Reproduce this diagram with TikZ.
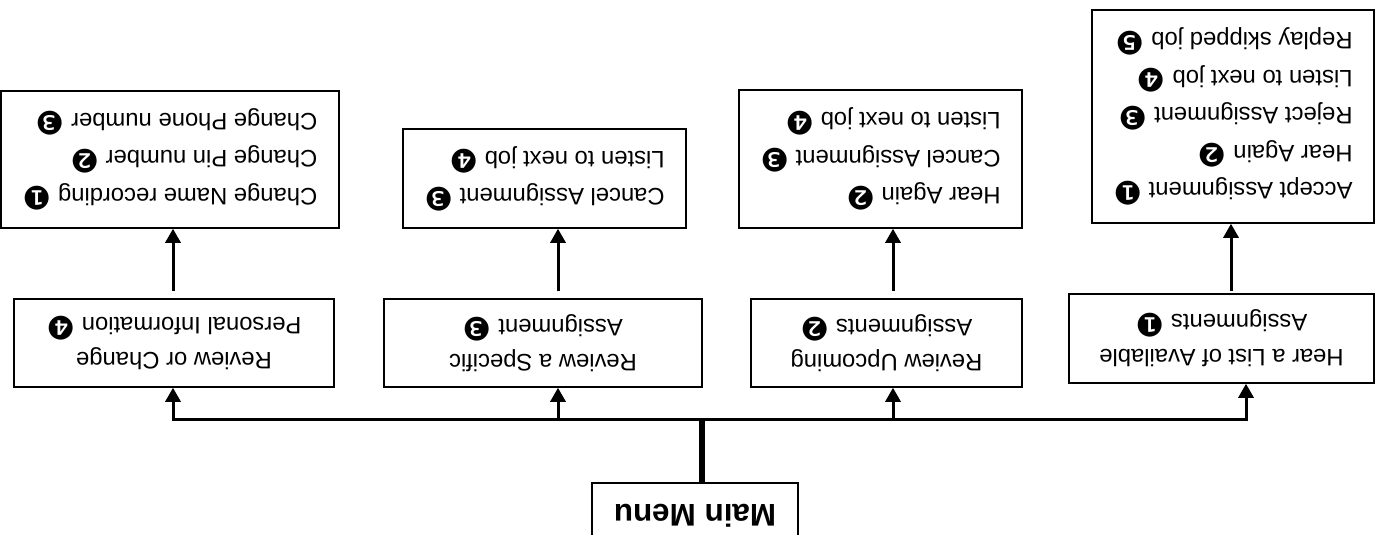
\documentclass[tikz,border=0pt]{standalone}
\usepackage{fontspec}
\setmainfont{Liberation Sans}
\newfontfamily\djv{DejaVu Sans}
\usetikzlibrary{arrows.meta}
\newcommand\cnum[1]{\raisebox{-1.5pt}{\djv\fontsize{32}{32}\selectfont #1}}
\begin{document}
\begin{tikzpicture}[x=1pt,y=-1pt,
  box/.style={draw, line width=1.5pt, rotate=180, inner sep=0pt},
  leaf/.style={box, align=left, font=\fontsize{23.8}{37.5}\selectfont},
  mid/.style={box, align=center, font=\fontsize{23.8}{35}\selectfont},
  arr/.style={line width=3pt, -{Triangle[width=15pt,length=14pt]}},
  busline/.style={line width=3pt, {Triangle[width=15pt,length=14pt]}-{Triangle[width=15pt,length=14pt]}},
  trunk/.style={line width=6pt}]
\clip (0,0) rectangle (1379,535);
\fill[white] (0,0) rectangle (1379,535);
% third row
\node[leaf, minimum width=338pt, minimum height=137pt] (cA) at (170,159.5)
  {Change Name recording \cnum{❶}\\Change Pin number \cnum{❷}\\Change Phone number \cnum{❸}};
\node[leaf, minimum width=283pt, minimum height=99pt] (cB) at (544.5,178.5)
  {Cancel Assignment \cnum{❸}\\Listen to next job \cnum{❹}};
\node[leaf, minimum width=283pt, minimum height=138pt] (cC) at (880.5,159)
  {Hear Again \cnum{❷}\\Cancel Assignment \cnum{❸}\\Listen to next job \cnum{❹}};
\node[leaf, minimum width=282pt, minimum height=213pt] (cD) at (1233,116.5)
  {Accept Assignment \cnum{❶}\\Hear Again \cnum{❷}\\Reject Assignment \cnum{❸}\\Listen to next job \cnum{❹}\\Replay skipped job \cnum{❺}};
% second row
\node[mid, minimum width=320pt, minimum height=88pt] (b1) at (174,343)
  {Review or Change\\Personal Information \cnum{❹}};
\node[mid, minimum width=318pt, minimum height=88pt] (b2) at (543,343)
  {Review a Specific\\Assignment \cnum{❸}};
\node[mid, minimum width=271pt, minimum height=88pt] (b3) at (886.5,343)
  {Review Upcoming\\Assignments \cnum{❷}};
\node[mid, minimum width=305pt, minimum height=89pt] (b4) at (1221.5,338.5)
  {Hear a List of Available\\Assignments \cnum{❶}};
% main menu
\node[box, minimum width=206pt, minimum height=65pt,
  font=\bfseries\fontsize{31.4}{38}\selectfont] (main) at (695,515.5) {Main Menu};
% connectors
\coordinate (j) at (702,419);
\coordinate (bus1) at (173,419);
\coordinate (bus2) at (558,419);
\coordinate (bus3) at (893,419);
\coordinate (bus4) at (1246,419);
\draw[trunk] (j |- main.south) -- (j);
\draw[busline] (bus1 |- b1.north) -- (bus1) -- (bus4) -- (bus4 |- b4.north);
\draw[arr] (bus2) -- (bus2 |- b2.north);
\draw[arr] (bus3) -- (bus3 |- b3.north);
\coordinate (t1) at (173,291);
\coordinate (t2) at (558,291);
\coordinate (t3) at (893,291);
\coordinate (t4) at (1231,291);
\draw[arr] (t1) -- (t1 |- cA.north);
\draw[arr] (t2) -- (t2 |- cB.north);
\draw[arr] (t3) -- (t3 |- cC.north);
\draw[arr] (t4) -- (t4 |- cD.north);
\end{tikzpicture}
\end{document}
